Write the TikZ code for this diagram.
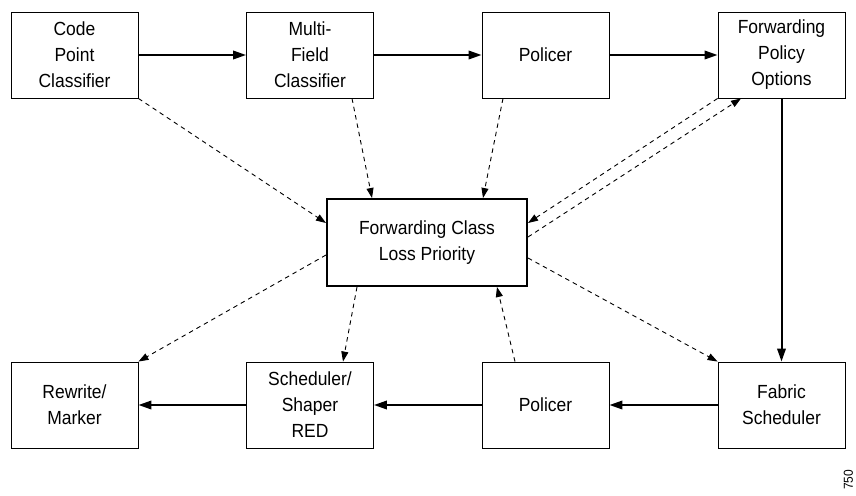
\documentclass[tikz,border=0pt]{standalone}
\usepackage{fontspec}
\setmainfont{Liberation Sans}
\newfontfamily\narrowfont[FakeStretch=0.92]{Liberation Sans}
\usetikzlibrary{arrows.meta}
\begin{document}
\begin{tikzpicture}[x=1pt,y=-1pt,
  box/.style={draw,line width=0.9pt,rectangle,minimum width=127pt,minimum height=86pt,
    align=center,inner sep=0pt,font=\narrowfont\fontsize{19}{26}\selectfont},
  bigbox/.style={box,line width=2pt,minimum width=200pt,minimum height=87pt},
  flow/.style={line width=2pt,-{Triangle[length=13pt,width=8.5pt]}},
  rel/.style={line width=0.9pt,dash pattern=on 4.5pt off 4pt,-{Triangle[length=10pt,width=7pt]}}]
\useasboundingbox (0,0) rectangle (856,495);
\node[box] (cp) at (74.5,55) {Code\\Point\\Classifier};
\node[box] (mf) at (310,55) {Multi-\\Field\\Classifier};
\node[box] (pt) at (545.5,55) {Policer};
\node[box] (fpo) at (781.5,55) {Forwarding\\Policy\\Options};
\node[box] (rw) at (74.5,405) {Rewrite/\\Marker};
\node[box] (sch) at (310,405) {Scheduler/\\Shaper\\RED};
\node[box] (pb) at (545.5,405) {Policer};
\node[box] (fab) at (781.5,405) {Fabric\\Scheduler};
\node[bigbox] (ctr) at (427,242.5) {Forwarding Class\\Loss Priority};
\node[font=\narrowfont\fontsize{13}{13}\selectfont,rotate=90,inner sep=0pt] (num) at (848.5,480) {750};
% solid flow
\draw[flow] (cp) -- (mf);
\draw[flow] (mf) -- (pt);
\draw[flow] (pt) -- (fpo);
\draw[flow] (fpo) -- (fab);
\draw[flow] (fab) -- (pb);
\draw[flow] (pb) -- (sch);
\draw[flow] (sch) -- (rw);
% dashed relations
\draw[rel] (cp.south east) -- ([yshift=19.5pt]ctr.west);
\draw[rel] ([xshift=42pt]mf.south) -- ([xshift=-55pt]ctr.north);
\draw[rel] ([xshift=-42.5pt]pt.south) -- ([xshift=56pt]ctr.north);
\draw[rel] (fpo.south west) -- ([yshift=19.5pt]ctr.east);
\draw[rel] ([yshift=5.5pt]ctr.east) -- ([xshift=-40.5pt]fpo.south);
\draw[rel] ([yshift=-12.5pt]ctr.west) -- (rw.north east);
\draw[rel] ([xshift=-70pt]ctr.south) -- ([xshift=33pt]sch.north);
\draw[rel] ([xshift=-30.5pt]pb.north) -- ([xshift=70pt]ctr.south);
\draw[rel] ([yshift=-15.5pt]ctr.east) -- (fab.north west);
\end{tikzpicture}
\end{document}
